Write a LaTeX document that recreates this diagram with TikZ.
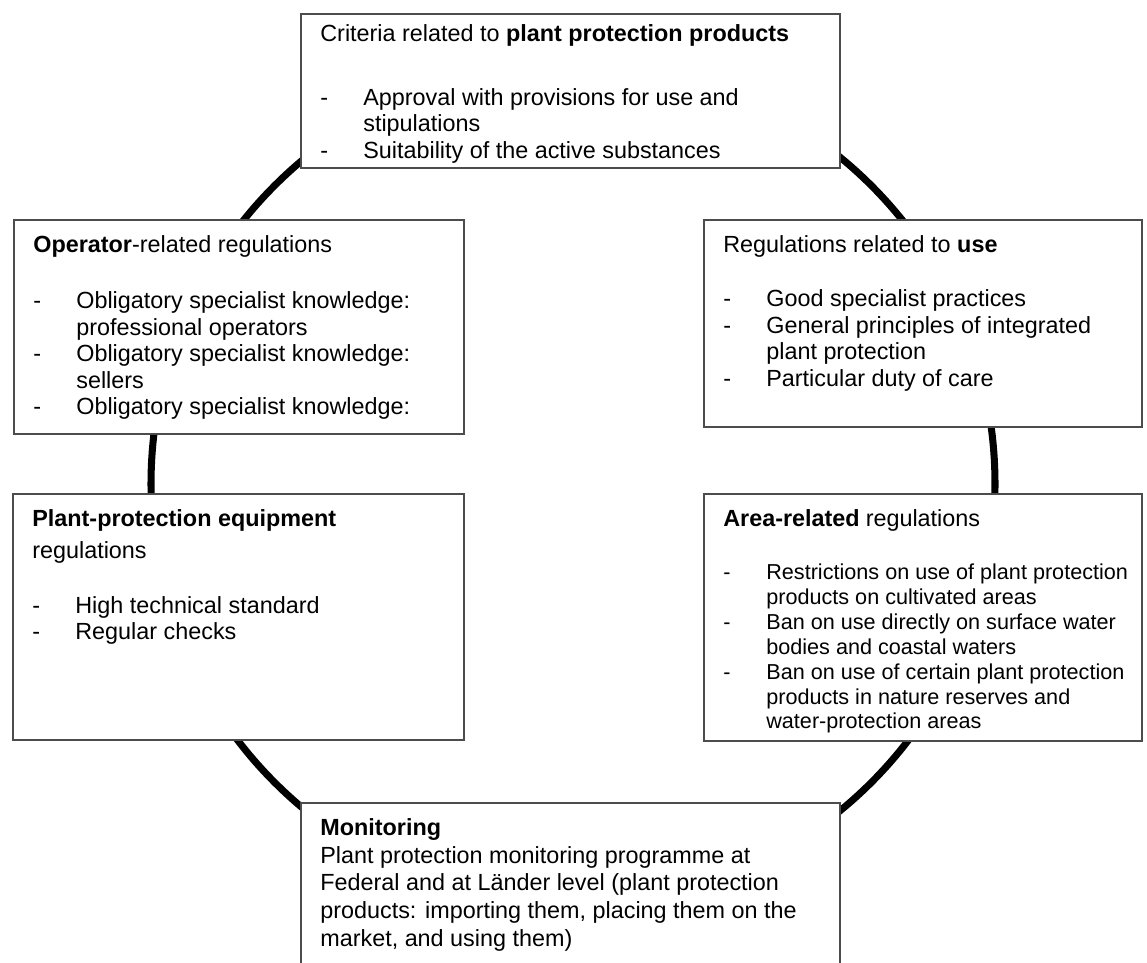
\documentclass[tikz,border=0pt]{standalone}
\usepackage{fontspec}
\setmainfont{Liberation Sans}

\newcommand{\itm}{\makebox[0.86cm][l]{-}}
\newcommand{\cnt}{\hspace*{0.86cm}}

\begin{document}
\begin{tikzpicture}[
  box/.style={draw=black!70, line width=0.9pt, fill=white, anchor=north west, inner sep=0pt},
  txt/.style={anchor=north west, align=left, inner sep=0pt, xshift=0.4cm, yshift=-0.32cm,
    font=\fontsize{13.3pt}{15.1pt}\selectfont}
]

\useasboundingbox (0,0) rectangle (22.94,-19.26);
\clip (0,0) rectangle (22.94,-19.26);

\draw[line width=4pt] (11.46,-9.68) circle (8.44);

\node[box, minimum width=10.78cm, minimum height=3.08cm] (crit) at (6.00,-0.26) {};
\node[box, minimum width=9.00cm, minimum height=4.28cm] (oper) at (0.26,-4.38) {};
\node[box, minimum width=8.76cm, minimum height=4.14cm] (use) at (14.06,-4.38) {};
\node[box, minimum width=9.02cm, minimum height=4.92cm] (equip) at (0.24,-9.86) {};
\node[box, minimum width=8.76cm, minimum height=4.94cm] (area) at (14.06,-9.86) {};
\node[box, minimum width=10.78cm, minimum height=4.00cm] (mon) at (6.00,-16.04) {};

\node[txt, yshift=0.1cm] (crit-t) at (crit.north west)
  {Criteria related to \textbf{plant protection products}\\[0.75cm]
   \itm Approval with provisions for use and\\
   \cnt stipulations\\
   \itm Suitability of the active substances};

\node[txt] (oper-t) at (oper.north west)
  {\textbf{Operator}-related regulations\\[0.6cm]
   \itm Obligatory specialist knowledge:\\
   \cnt professional operators\\
   \itm Obligatory specialist knowledge:\\
   \cnt sellers\\
   \itm Obligatory specialist knowledge:};

\node[txt] (use-t) at (use.north west)
  {Regulations related to \textbf{use}\\[0.56cm]
   \itm Good specialist practices\\
   \itm General principles of integrated\\
   \cnt plant protection\\
   \itm Particular duty of care};

\node[txt] (equip-t) at (equip.north west)
  {\textbf{Plant-protection equipment}\\[0.12cm]
   regulations\\[0.56cm]
   \itm High technical standard\\
   \itm Regular checks};

\node[txt, font=\fontsize{12.3pt}{14.2pt}\selectfont] (area-t) at (area.north west)
  {\textbf{\fontsize{13.3pt}{14.2pt}\selectfont Area-related} {\fontsize{13.3pt}{14.2pt}\selectfont regulations}\\[0.56cm]
   \itm Restrictions on use of plant protection\\
   \cnt products on cultivated areas\\
   \itm Ban on use directly on surface water\\
   \cnt bodies and coastal waters\\
   \itm Ban on use of certain plant protection\\
   \cnt products in nature reserves and\\
   \cnt water-protection areas};

\node[txt, font=\fontsize{13.3pt}{15.8pt}\selectfont] (mon-t) at (mon.north west)
  {\textbf{Monitoring}\\
   Plant protection monitoring programme at\\
   Federal and at Länder level (plant protection\\
   products: importing them, placing them on the\\
   market, and using them)};

\end{tikzpicture}
\end{document}
